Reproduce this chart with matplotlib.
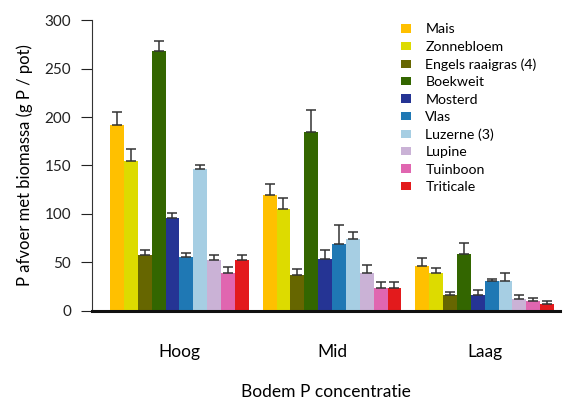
import matplotlib
matplotlib.use("Agg")
import matplotlib.pyplot as plt
import numpy as np

plt.rcParams['font.family'] = ['Lato', 'DejaVu Sans']

groups = ["Hoog", "Mid", "Laag"]
crops = ["Mais", "Zonnebloem", "Engels raaigras (4)", "Boekweit", "Mosterd",
         "Vlas", "Luzerne (3)", "Lupine", "Tuinboon", "Triticale"]
colors = ["#FFC000", "#DDDB00", "#666600", "#336600", "#253494",
          "#1F78B4", "#A6CEE3", "#CAB2D6", "#E066B0", "#E31A1C"]

# values per crop: [Hoog, Mid, Laag]
values = {
    "Mais":                [192, 119.5, 46],
    "Zonnebloem":          [154.5, 105, 39],
    "Engels raaigras (4)": [57.5, 37, 16],
    "Boekweit":            [268, 184.5, 58.5],
    "Mosterd":             [95.5, 53.5, 16],
    "Vlas":                [55.5, 69, 30.5],
    "Luzerne (3)":         [146.5, 74, 30.5],
    "Lupine":              [52.5, 39, 12],
    "Tuinboon":            [39, 23.5, 10],
    "Triticale":           [52.5, 23.5, 6.5],
}
errors = {
    "Mais":                [13, 11.5, 8],
    "Zonnebloem":          [13, 11.5, 5.5],
    "Engels raaigras (4)": [5, 6.5, 3],
    "Boekweit":            [11, 22.5, 11],
    "Mosterd":             [5, 9, 5],
    "Vlas":                [4, 19.5, 2.5],
    "Luzerne (3)":         [4.5, 7.5, 8],
    "Lupine":              [5.5, 8, 4],
    "Tuinboon":            [6.5, 6.5, 3.5],
    "Triticale":           [5, 6, 3.7],
}

fig = plt.figure(figsize=(5.63, 4.01), dpi=100)
ax = fig.add_axes([0.163, 0.2252, 0.832, 0.7242])

n = len(crops)
w = 1.0 / (n + 1)
x = np.arange(len(groups))
for i, c in enumerate(crops):
    pos = x + (i - (n - 1) / 2) * w
    v = np.array(values[c])
    e = np.array(errors[c])
    ax.bar(pos, v, width=w, color=colors[i], label=c, zorder=2)
    ax.errorbar(pos, v, yerr=[np.zeros_like(e), e], fmt='none',
                ecolor='#333333', elinewidth=1.1, capsize=3.6, capthick=1.1, zorder=3)

ax.set_xlim(-0.574, 2.495)
ax.set_ylim(0, 300)
ax.set_yticks([0, 50, 100, 150, 200, 250, 300])
ax.set_xticks(x)
ax.set_xticklabels(groups, fontsize=12.5)
ax.tick_params(axis='x', length=0, pad=24)
ax.tick_params(axis='y', length=8, width=0.8, pad=7, labelsize=11, colors='#222222')

for s in ['top', 'right']:
    ax.spines[s].set_visible(False)
ax.spines['left'].set_linewidth(0.8)
ax.spines['left'].set_color('#333333')
ax.spines['bottom'].set_linewidth(2.2)
ax.spines['bottom'].set_color('#111111')

ax.set_ylabel("P afvoer met biomassa (g P / pot)", fontsize=12, labelpad=8)
ax.set_xlabel("Bodem P concentratie", fontsize=12.5, labelpad=17)

leg = ax.legend(loc='upper left', bbox_to_anchor=(0.632, 1.033), frameon=False,
                fontsize=10.2, handlelength=0.77, handleheight=0.52,
                handletextpad=0.98, labelspacing=0.38)

fig.savefig("out.png", dpi=100)
